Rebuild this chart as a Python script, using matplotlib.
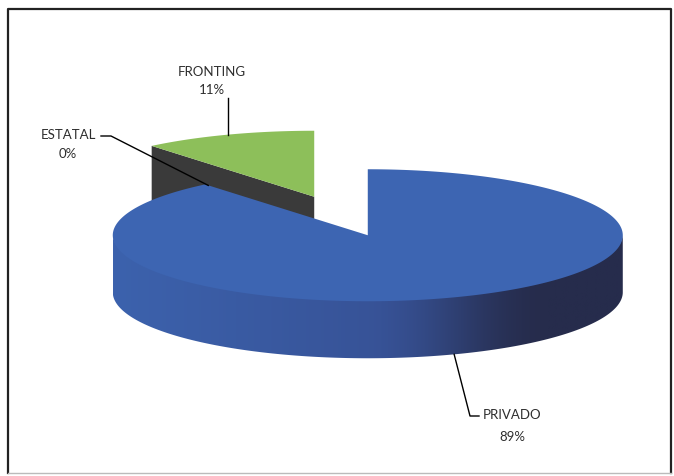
import numpy as np
import matplotlib
matplotlib.use("Agg")
import matplotlib.pyplot as plt
from matplotlib.patches import Polygon

labels = ["PRIVADO", "ESTATAL", "FRONTING"]
values = [89, 0, 11]
pct_text = ["89%", "0%", "11%"]

TOP_COLORS = ["#3d65b2", "#2b2b2b", "#8dbf5a"]
CUT_COLOR = "#3a3a3a"
SIDE_LIGHT = np.array([60, 98, 173]) / 255
SIDE_MID = np.array([55, 82, 150]) / 255
SIDE_DARK = np.array([38, 44, 76]) / 255
TEXT_COLOR = "#2e2e2e"

# pie geometry in pixel space (y grows downward)
X0, Y0 = 341, 217
RX, RY = 255, 66
DEPTH = 57
EXPLODE = 0.31


def ell(cx, cy, deg, r=1.0):
    t = np.radians(deg)
    return cx + r * RX * np.cos(t), cy - r * RY * np.sin(t)


def arc(cx, cy, a0, a1, n=120, dy=0):
    ts = np.linspace(a0, a1, n)
    xs, ys = ell(cx, cy, ts)
    return np.column_stack([xs, ys + dy])


fig = plt.figure(figsize=(6.74, 4.77), dpi=100)
ax = fig.add_axes([0, 0, 1, 1])
ax.set_xlim(0, 674)
ax.set_ylim(477, 0)
ax.axis("off")

# slice angles: start at 12 o'clock, clockwise
total = float(sum(values))
bounds = []
start = 90.0
for v in values:
    end = start - v / total * 360.0
    bounds.append((start, end))
    start = end

centers = []
for a0, a1 in bounds:
    mid = (a0 + a1) / 2
    centers.append(ell(X0, Y0, mid, EXPLODE))

# back slice first (FRONTING), then the big front slice
i = 2
a0, a1 = bounds[i]
cx, cy = centers[i]
# cut face along the trailing radius
px, py = ell(cx, cy, a0)
cut = [(cx, cy), (px, py), (px, py + DEPTH), (cx, cy + DEPTH)]
ax.add_patch(Polygon(cut, closed=True, facecolor=CUT_COLOR, edgecolor="none", zorder=2))
top = np.vstack([[cx, cy], arc(cx, cy, a1, a0)])
ax.add_patch(Polygon(top, closed=True, facecolor=TOP_COLORS[i], edgecolor="none", zorder=3))

# PRIVADO: outer wall on the front half, shaded left to right
i = 0
a0, a1 = bounds[i]
cx, cy = centers[i]
wall = np.vstack([arc(cx, cy, 180, 360, n=300, dy=-1.5),
                  arc(cx, cy, 360, 180, n=300, dy=DEPTH)])
wall_patch = Polygon(wall, closed=True, facecolor="none", edgecolor="none", zorder=4)
ax.add_patch(wall_patch)
t = np.linspace(0, 1, 400)
w1 = np.clip(t / 0.55, 0, 1)
w2 = np.clip((t - 0.5) / 0.35, 0, 1)
w2 = w2 * w2 * (3 - 2 * w2)
grad = SIDE_LIGHT * (1 - w1[:, None]) + SIDE_MID * w1[:, None]
grad = grad * (1 - w2[:, None]) + SIDE_DARK * w2[:, None]
img = ax.imshow(grad[None, :, :], extent=(cx - RX, cx + RX, cy + RY + DEPTH + 2, cy - 4),
                aspect="auto", interpolation="bilinear", zorder=4)
img.set_clip_path(wall_patch)
top = np.vstack([[cx, cy], arc(cx, cy, a1, a0, n=400)])
ax.add_patch(Polygon(top, closed=True, facecolor=TOP_COLORS[i], edgecolor="none", zorder=5))

# data labels with leader lines
font = dict(family=["Lato", "DejaVu Sans"], fontsize=9.5, color=TEXT_COLOR, zorder=7)

# FRONTING
fx, fy = ell(*centers[2], (bounds[2][0] + bounds[2][1]) / 2)
ax.plot([fx, fx], [fy, 99], color="black", lw=1.0, zorder=6)
ax.text(212, 72, labels[2], ha="center", va="center", **font)
ax.text(212, 90, pct_text[2], ha="center", va="center", **font)

# ESTATAL (zero-width slice, line runs to the shared edge)
ex, ey = ell(*centers[0], bounds[0][1])
ax.plot([101, 111, ex + 3], [137, 137, ey + 1], color="black", lw=1.0, zorder=6)
ax.text(68, 135, labels[1], ha="center", va="center", **font)
ax.text(68, 154, pct_text[1], ha="center", va="center", **font)

# PRIVADO
mid0 = (bounds[0][0] + bounds[0][1]) / 2
bx, by = ell(*centers[0], mid0)
ax.plot([bx, 470, 479], [by + DEPTH, 417, 417], color="black", lw=1.0, zorder=6)
ax.text(512, 415, labels[0], ha="center", va="center", **font)
ax.text(512, 437, pct_text[0], ha="center", va="center", **font)

# frame
ax.plot([7.5, 7.5, 671, 671], [474, 9.5, 9.5, 474], color="#222222", lw=1.6, zorder=8)
ax.plot([7.5, 671], [474, 474], color="#bbbbbb", lw=1.0, zorder=8)

fig.savefig("out.png", dpi=100, facecolor="white")
